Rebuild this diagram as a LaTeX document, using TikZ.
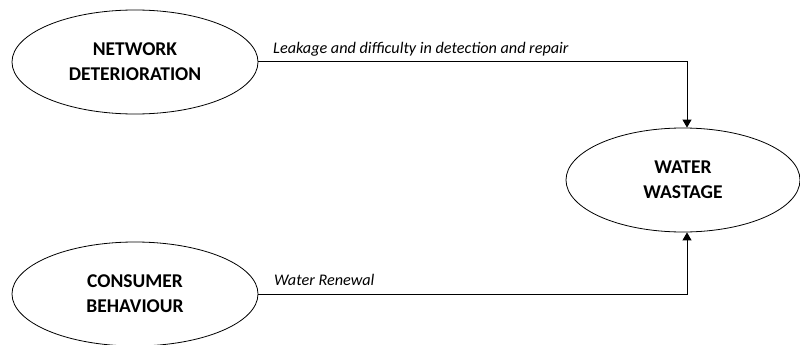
\documentclass[tikz,border=0pt]{standalone}
\usepackage{fontspec}
\setmainfont{Carlito}
\usetikzlibrary{shapes.geometric,arrows.meta}
\begin{document}
\begin{tikzpicture}[x=1pt,y=-1pt,
  oval/.style={draw, ellipse, line width=0.8pt, minimum width=#1, minimum height=104pt, inner sep=0pt, align=center, font=\fontsize{19.5}{25}\selectfont\bfseries},
  link/.style={draw, line width=1pt, -{Triangle[length=8pt,width=9pt]}},
  lbl/.style={font=\fontsize{16.2}{19}\selectfont\itshape, anchor=base west, inner sep=0pt}]
\useasboundingbox (0,0) rectangle (800,345);
\node[oval=246pt] (net) at (135,62) {NETWORK\\DETERIORATION};
\node[oval=246pt] (con) at (135,294) {CONSUMER\\BEHAVIOUR};
\node[oval=234pt] (wat) at (683,180) {WATER\\WASTAGE};
\coordinate (c1) at (687,62);
\coordinate (c2) at (687,294);
\draw[link] (net.east) -- (c1) -- (wat.north -| c1);
\draw[link] (con.east) -- (c2) -- (wat.south -| c2);
\node[lbl] (l1) at (273,53) {Leakage and difficulty in detection and repair};
\node[lbl] (l2) at (274,285) {Water Renewal};
\end{tikzpicture}
\end{document}
